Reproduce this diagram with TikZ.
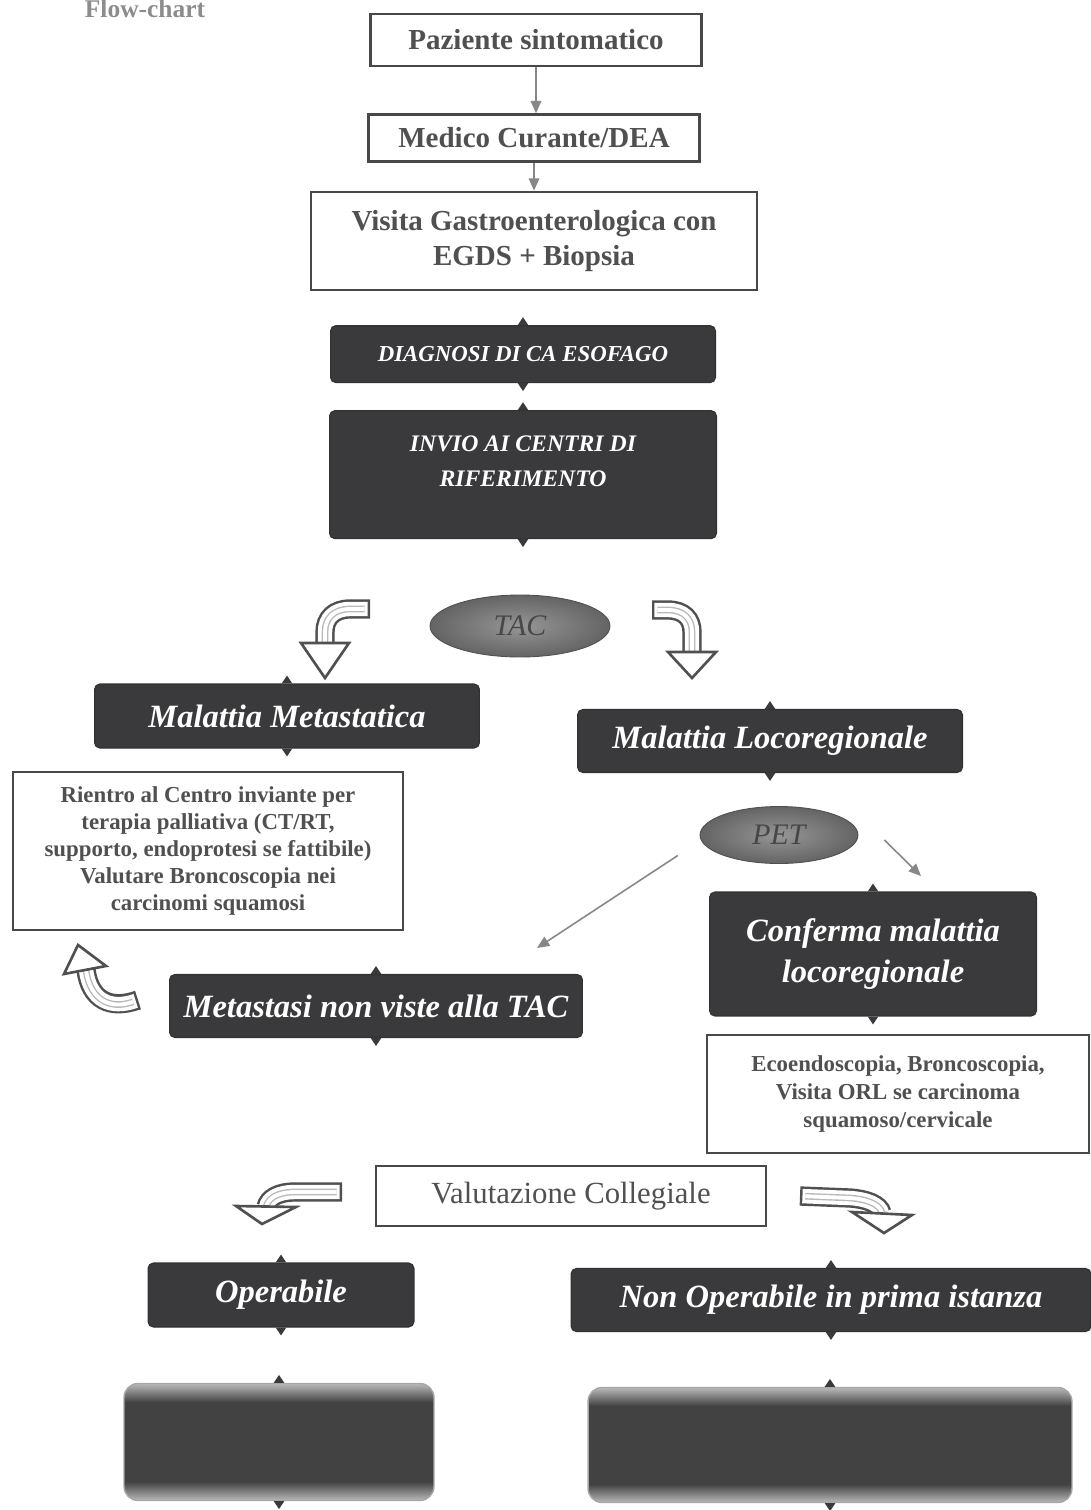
\documentclass[tikz,border=0pt]{standalone}
\usepackage{fontspec}
\setmainfont{Liberation Serif}
\usepackage{tikz}
\usetikzlibrary{shapes.geometric, arrows.meta, positioning, calc}
\definecolor{mydark}{RGB}{58,58,60}
\definecolor{mytext}{RGB}{80,80,80}
\definecolor{myframe}{RGB}{72,72,72}
\definecolor{myarrow}{RGB}{80,80,80}
\definecolor{mythin}{RGB}{135,135,135}
\definecolor{ellout}{RGB}{100,100,100}
\definecolor{ellin}{RGB}{150,150,150}
\pgfdeclareverticalshading{resshade}{100bp}{color(0bp)=(gray!55); color(25bp)=(gray!55);
  color(33bp)=(black!74); color(67bp)=(black!74); color(75bp)=(gray!55); color(100bp)=(gray!55)}
\tikzset{
  wbox/.style={rectangle, draw=myframe, fill=white, text=mytext, align=center,
    font=\fontsize{16.5}{20}\selectfont\bfseries, line width=1.4pt, inner sep=2pt},
  dbox/.style={rectangle, draw=mydark!85!black, fill=mydark, text=white, align=center,
    font=\fontsize{18.5}{23}\selectfont\bfseries\itshape, rounded corners=3pt,
    line width=0.6pt, inner sep=2pt},
  gbox/.style={rectangle, draw=gray!70, shading=resshade, rounded corners=8pt, line width=0.8pt},
  exam/.style={ellipse, draw=ellout!80!black, inner color=ellin, outer color=ellout,
    text=black!72, font=\fontsize{17}{20}\selectfont\itshape, inner sep=0pt, line width=0.5pt},
  arrow/.style={-{Triangle[length=7pt,width=6pt]}, line width=0.9pt, color=mythin},
  hollowshaft/.style={draw=myarrow, line width=11pt,
    postaction={draw=white, line width=8.2pt, shorten <=1.4pt},
    postaction={draw=gray!55, line width=3.8pt, shorten <=3pt},
    postaction={draw=white, line width=2.2pt, shorten <=3pt}},
  hollowhead/.style={fill=white, draw=myarrow, line width=1.5pt, line join=miter}
}
\begin{document}
\begin{tikzpicture}[x=0.02cm, y=-0.02cm]
  \useasboundingbox (0,0) rectangle (1091,1510);
  \node[anchor=base, text=gray!90, font=\fontsize{14.5}{17}\selectfont\bfseries] (title) at (145,18) {Flow-chart};
  % percorso diagnostico
  \node[wbox, minimum width=6.62cm, minimum height=1.04cm] (pz) at (536,40) {Paziente sintomatico};
  \node[wbox, minimum width=6.62cm, minimum height=0.94cm, below=0.92cm of pz, xshift=-0.04cm] (med) {Medico Curante/DEA};
  \node[wbox, minimum width=8.92cm, minimum height=1.96cm, below=0.56cm of med] (vis) {Visita Gastroenterologica con\\EGDS + Biopsia};
  \node[dbox, font=\fontsize{13}{16}\selectfont\bfseries\itshape, minimum width=7.7cm, minimum height=1.14cm,
    below=0.68cm of vis, xshift=-0.22cm] (diag) {DIAGNOSI DI CA ESOFAGO};
  \node[dbox, font=\fontsize{13.5}{20}\selectfont\bfseries\itshape, minimum width=7.74cm, minimum height=2.56cm,
    below=0.54cm of diag] (invio) {INVIO AI CENTRI DI\\RIFERIMENTO\\[-5pt]\mbox{}};
  % stadiazione
  \node[exam, minimum width=3.6cm, minimum height=1.24cm] (tac) at (520,626) {TAC};
  \node[dbox, minimum width=7.7cm, minimum height=1.28cm] (meta) at (287,716) {Malattia Metastatica};
  \node[dbox, minimum width=7.7cm, minimum height=1.26cm] (loco) at (770,741) {Malattia Locoregionale};
  \node[wbox, font=\fontsize{13}{15.3}\selectfont\bfseries, minimum width=7.8cm, minimum height=3.16cm] (rientro) at (208,851)
    {Rientro al Centro inviante per\\terapia palliativa (CT/RT,\\supporto, endoprotesi se fattibile)\\Valutare Broncoscopia nei\\carcinomi squamosi};
  \node[exam, minimum width=3.16cm, minimum height=1.14cm] (pet) at (779,835) {PET};
  \node[dbox, minimum width=6.54cm, minimum height=2.48cm] (conf) at (873,954) {Conferma malattia\\locoregionale};
  \node[dbox, minimum width=8.26cm, minimum height=1.26cm] (nonv) at (376,1006) {Metastasi non viste alla TAC};
  \node[wbox, font=\fontsize{13}{15.9}\selectfont\bfseries, minimum width=7.64cm, minimum height=2.36cm] (eco) at (898,1094)
    {Ecoendoscopia, Broncoscopia,\\Visita ORL se carcinoma\\squamoso/cervicale};
  % decisione
  \node[wbox, font=\fontsize{17.5}{20}\selectfont, minimum width=7.8cm, minimum height=1.2cm] (valu) at (571,1196) {Valutazione Collegiale};
  \node[dbox, minimum width=5.32cm, minimum height=1.28cm] (oper) at (281,1295) {Operabile};
  \node[dbox, minimum width=10.4cm, minimum height=1.26cm] (nonop) at (831,1300) {Non Operabile in prima istanza};
  \node[gbox, minimum width=6.2cm, minimum height=2.34cm] (resA) at (279,1442) {};
  \node[gbox, minimum width=9.68cm, minimum height=2.3cm] (resB) at (830,1445) {};
  \coordinate (nonvin) at (537,948);
  \coordinate (confin) at (921,876);
  % tacche dei blocchi scuri
  \foreach \b in {diag,invio,meta,loco,conf,nonv,oper,nonop,resA,resB} {
    \fill[mydark] ($(\b.north)+(-3pt,0)$) -- ++(3pt,4.5pt) -- ++(3pt,-4.5pt) -- cycle;
    \fill[mydark] ($(\b.south)+(-3pt,0)$) -- ++(3pt,-4.5pt) -- ++(3pt,4.5pt) -- cycle;
  }
  \draw[arrow] (pz.south) -- (pz.south |- med.north);
  \draw[arrow] (med.south) -- (med.south |- vis.north);
  \draw[arrow] ($(pet.south west)+(-45,0)$) -- (nonvin);
  \draw[arrow] ($(pet.east)+(26,5)$) -- (confin);
  % frecce curve
  \draw[hollowshaft] (370,609) -- (350,609) .. controls (334,609) and (325,618) .. (325,632) -- (325,645);
  \draw[hollowhead] (301,643) -- (349,643) -- (325,678) -- cycle;
  \draw[hollowshaft] (652,610) -- (668,610) .. controls (684,610) and (692,619) .. (692,632) -- (692,654);
  \draw[hollowhead] (668,652) -- (716,652) -- (692,678) -- cycle;
  \draw[hollowshaft] (138,1000) .. controls (110,1010) and (90,1000) .. (86,970);
  \draw[hollowhead] (64,974) -- (106,966) -- (78,945) -- cycle;
  \draw[hollowshaft] (342,1192) -- (295,1192) .. controls (278,1192) and (268,1198) .. (266,1207);
  \draw[hollowhead] (236,1206) -- (296,1207) -- (262,1224) -- cycle;
  \draw[hollowshaft] (800,1196) -- (850,1198) .. controls (866,1199) and (880,1204) .. (882,1213);
  \draw[hollowhead] (852,1212) -- (912,1215) -- (884,1233) -- cycle;
\end{tikzpicture}
\end{document}
